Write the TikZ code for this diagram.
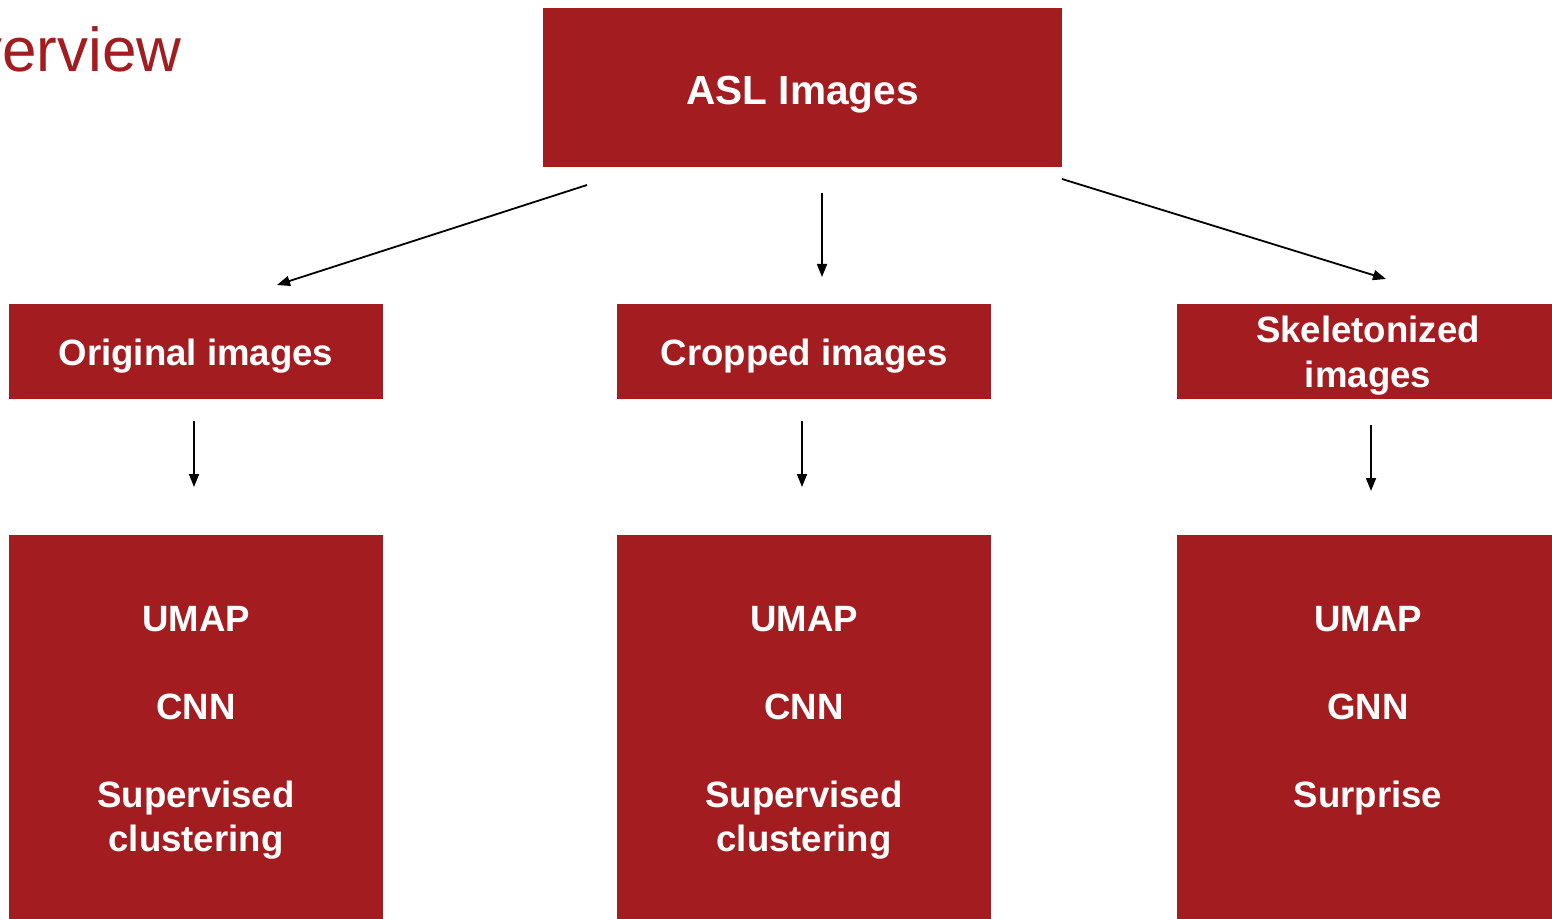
\documentclass[tikz,border=0pt]{standalone}
\usepackage{fontspec}
\setmainfont{Liberation Sans}
\usetikzlibrary{arrows.meta}
\definecolor{aslred}{HTML}{A31C20}
\begin{document}
\begin{tikzpicture}[x=0.5pt,y=-0.5pt,
  box/.style={fill=aslred, draw=none, inner sep=0pt},
  txt/.style={text=white, font=\bfseries\fontsize{18.3}{22}\selectfont, align=center, inner sep=0pt},
  arr/.style={line width=0.9pt, -{Triangle[length=6.5pt,width=5pt]}},
  title/.style={text=aslred, font=\fontsize{31}{36}\selectfont, inner sep=0pt}]
\useasboundingbox (0,0) rectangle (1552,919);
\fill[white] (0,0) rectangle (1552,919);
\node[title, anchor=base east] (ov) at (182,72) {Overview};
\node[box, minimum width=259.5pt, minimum height=79.5pt] (asl) at (802.5,87.5) {};
\node[box, minimum width=187pt, minimum height=47.5pt] (orig) at (196,351.5) {};
\node[box, minimum width=187pt, minimum height=47.5pt] (crop) at (804,351.5) {};
\node[box, minimum width=187.5pt, minimum height=47.5pt] (skel) at (1364.5,351.5) {};
\node[box, minimum width=187pt, minimum height=192pt] (m1) at (196,727) {};
\node[box, minimum width=187pt, minimum height=192pt] (m2) at (804,727) {};
\node[box, minimum width=187.5pt, minimum height=192pt] (m3) at (1364.5,727) {};
\node[txt, font=\bfseries\fontsize{20.3}{24}\selectfont] (aslt) at ([yshift=-3.5pt]asl.center) {ASL Images};
\node[txt] (origt) at ([yshift=-2.5pt]orig.center) {Original images};
\node[txt] (cropt) at ([yshift=-2.5pt]crop.center) {Cropped images};
\node[txt, font=\bfseries\fontsize{18.3}{22.5}\selectfont] (skelt) at ([xshift=1.75pt,yshift=-2pt]skel.center) {Skeletonized\\images};
\node[txt] (m1t) at ([yshift=-3pt]m1.center) {UMAP\\[22pt]CNN\\[22pt]Supervised\\clustering};
\node[txt] (m2t) at ([yshift=-3pt]m2.center) {UMAP\\[22pt]CNN\\[22pt]Supervised\\clustering};
\node[txt] (m3t) at ([xshift=1.75pt,yshift=-1pt]m3.center) {UMAP\\[22pt]GNN\\[22pt]Surprise\\\mbox{}};
\coordinate (a1s) at (587,185);
\coordinate (a1e) at (277,285);
\coordinate (a2s) at (822,193);
\coordinate (a2e) at (822,277);
\coordinate (a3s) at (1062,179);
\coordinate (a3e) at (1386,279);
\coordinate (b1s) at (194,421);
\coordinate (b1e) at (194,487);
\coordinate (b2s) at (802,421);
\coordinate (b2e) at (802,487);
\coordinate (b3s) at (1371,425);
\coordinate (b3e) at (1371,491);
\draw[arr] (a1s) -- (a1e);
\draw[arr] (a2s) -- (a2e);
\draw[arr] (a3s) -- (a3e);
\draw[arr] (b1s) -- (b1e);
\draw[arr] (b2s) -- (b2e);
\draw[arr] (b3s) -- (b3e);
\end{tikzpicture}
\end{document}
